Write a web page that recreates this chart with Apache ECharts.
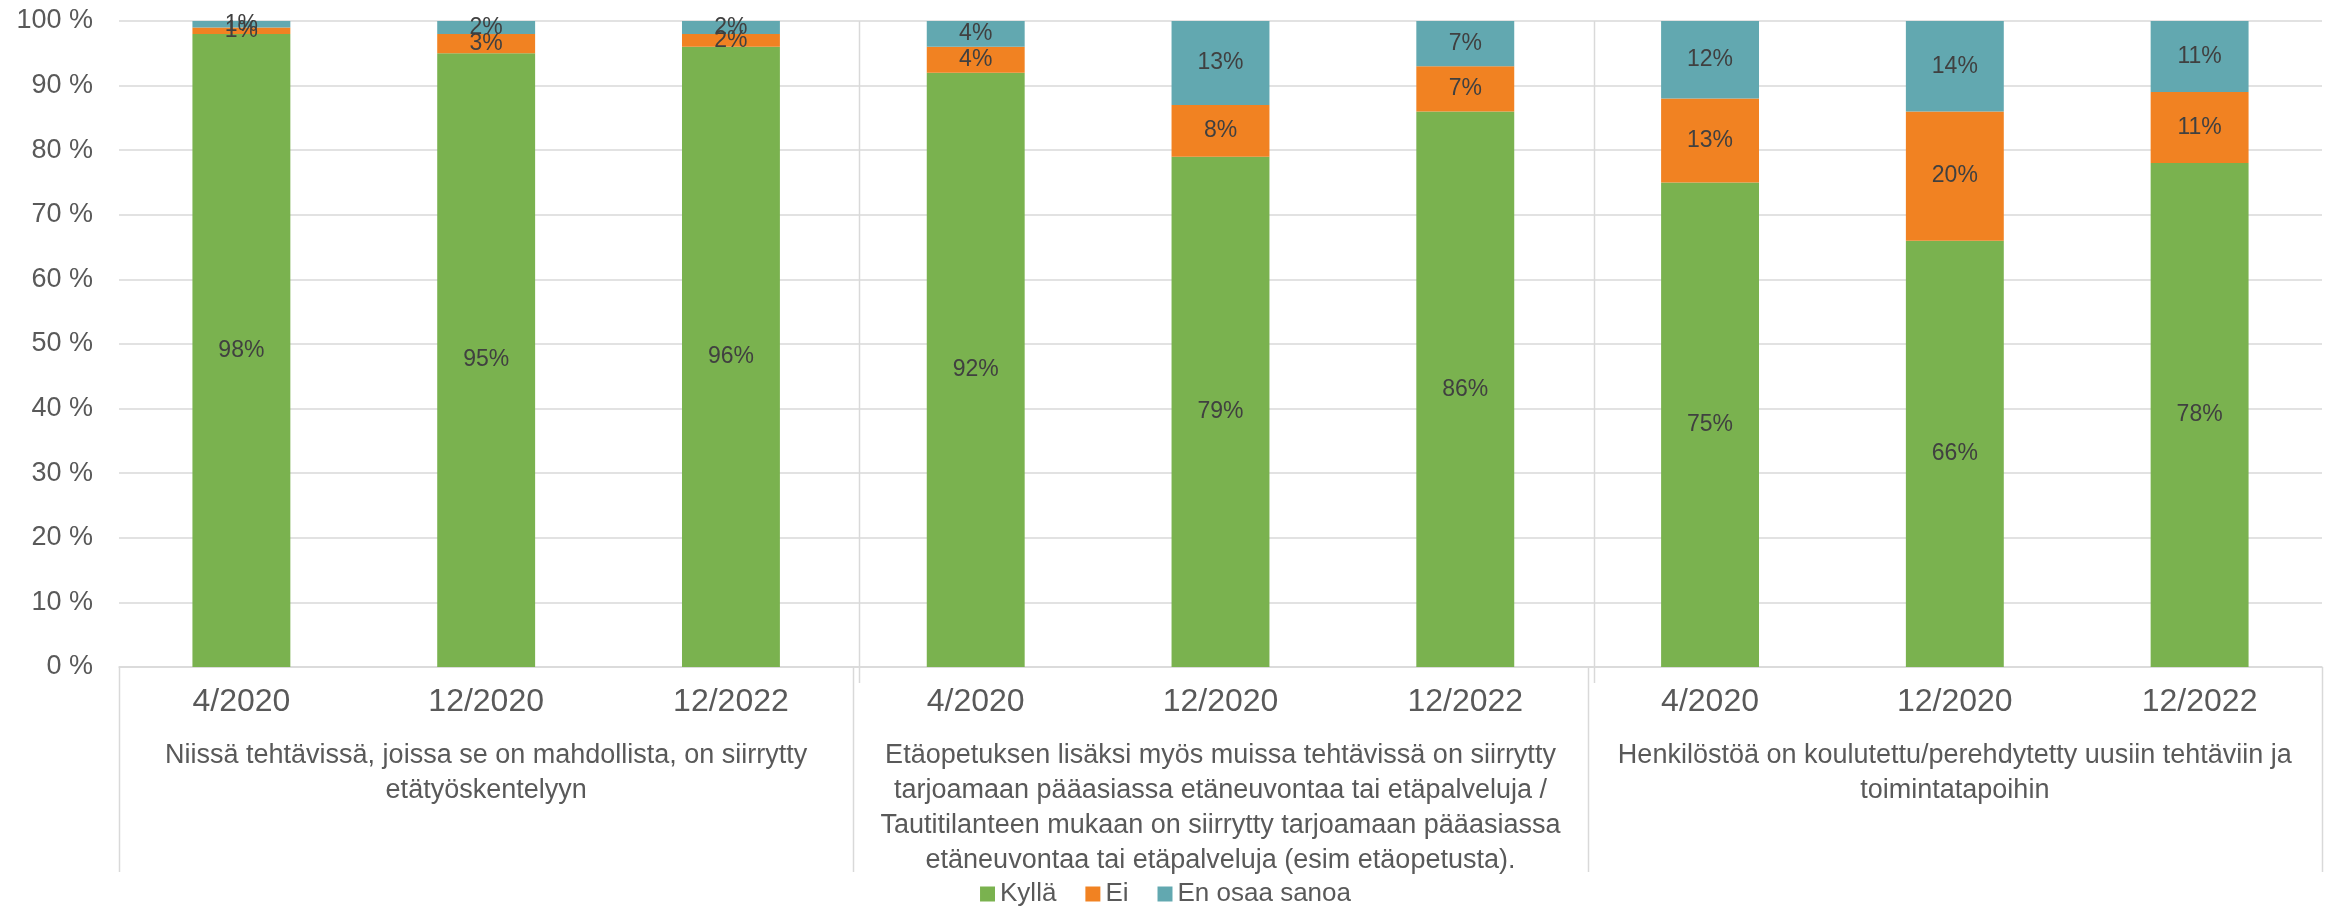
<!DOCTYPE html>
<html>
<head>
<meta charset="utf-8">
<script src="https://cdn.jsdelivr.net/npm/echarts@6/dist/echarts.min.js"></script>
<style>
html,body{margin:0;padding:0;background:#fff;}
#c{width:2331px;height:911px;}
</style>
</head>
<body>
<div id="c"></div>
<script>
const periods = ['4/2020', '12/2020', '12/2022'];
const groups = [
  'Niissä tehtävissä, joissa se on mahdollista, on siirrytty\netätyöskentelyyn',
  'Etäopetuksen lisäksi myös muissa tehtävissä on siirrytty\ntarjoamaan pääasiassa etäneuvontaa tai etäpalveluja /\nTautitilanteen mukaan on siirrytty tarjoamaan pääasiassa\netäneuvontaa tai etäpalveluja (esim etäopetusta).',
  'Henkilöstöä on koulutettu/perehdytetty uusiin tehtäviin ja\ntoimintatapoihin'
];
const seriesNames = ['Kyllä', 'Ei', 'En osaa sanoa'];
const kylla = [98, 95, 96, 92, 79, 86, 75, 66, 78];
const ei = [1, 3, 2, 4, 8, 7, 13, 20, 11];
const eos = [1, 2, 2, 4, 13, 7, 12, 14, 11];
const yTicks = [0, 10, 20, 30, 40, 50, 60, 70, 80, 90, 100];

const colors = ['#7AB24F', '#F18222', '#62A8B0'];
const FONT = '"Liberation Sans", Arial, sans-serif';
const TXT = '#595959';
const GRIDC = '#D9D9D9';

const cats = [];
groups.forEach((g, gi) => periods.forEach((p, pi) => cats.push(gi + '|' + pi)));

const chart = echarts.init(document.getElementById('c'), null, {renderer: 'canvas'});

function mkSeries(name, data, color) {
  return {
    name: name,
    type: 'bar',
    stack: 'total',
    barWidth: '40%',
    data: data,
    itemStyle: {color: color},
    label: {
      show: true,
      position: 'inside',
      formatter: '{c}%',
      color: '#404040',
      fontFamily: FONT,
      fontSize: 23
    },
    emphasis: {disabled: true}
  };
}

chart.setOption({
  animation: false,
  textStyle: {fontFamily: FONT},
  grid: {left: 119, right: 9, top: 21, bottom: 244, containLabel: false},
  legend: {
    data: seriesNames,
    top: 881,
    left: 'center',
    padding: 0,
    icon: 'rect',
    itemWidth: 15,
    itemHeight: 15,
    itemGap: 29,
    textStyle: {fontFamily: FONT, fontSize: 26, color: TXT}
  },
  xAxis: [
    {
      type: 'category',
      data: cats,
      position: 'bottom',
      axisLine: {show: true, lineStyle: {color: GRIDC, width: 1.5}},
      axisTick: {show: false},
      axisLabel: {
        interval: 0,
        margin: 18,
        lineHeight: 34,
        fontSize: 32,
        color: TXT,
        fontFamily: FONT,
        formatter: (v, i) => periods[i % periods.length]
      },
      splitLine: {show: false}
    },
    {
      type: 'category',
      data: groups,
      position: 'bottom',
      axisLine: {show: false},
      axisTick: {show: false},
      axisLabel: {
        interval: 0,
        margin: 71,
        lineHeight: 35,
        fontSize: 27,
        color: TXT,
        fontFamily: FONT,
        align: 'center'
      },
      splitLine: {show: false}
    }
  ],
  yAxis: {
    type: 'value',
    min: yTicks[0],
    max: yTicks[yTicks.length - 1],
    interval: yTicks[1] - yTicks[0],
    axisLine: {show: false},
    axisTick: {show: false},
    axisLabel: {
      margin: 26,
      fontSize: 27,
      color: TXT,
      fontFamily: FONT,
      formatter: '{value} %'
    },
    splitLine: {lineStyle: {color: GRIDC, width: 1.5}}
  },
  series: [
    mkSeries(seriesNames[0], kylla, colors[0]),
    mkSeries(seriesNames[1], ei, colors[1]),
    mkSeries(seriesNames[2], eos, colors[2])
  ]
});

// Multi-level category axis separators, positioned from the axis scale
(function () {
  const c0 = chart.convertToPixel({xAxisIndex: 0}, 0);
  const c1 = chart.convertToPixel({xAxisIndex: 0}, 1);
  const band = c1 - c0;
  const yBase = chart.convertToPixel({yAxisIndex: 0}, 0);
  const yTop = chart.convertToPixel({yAxisIndex: 0}, 100);
  const n = cats.length;
  const per = periods.length;
  const lineBottom = yBase + 205;
  const gfx = [];
  function vline(x, y1, y2) {
    gfx.push({type: 'line', silent: true, z: 5,
      shape: {x1: Math.round(x) + 0.5, y1: y1, x2: Math.round(x) + 0.5, y2: y2},
      style: {stroke: GRIDC, lineWidth: 1.5}});
  }
  for (let b = 0; b <= n; b += per) {
    const x = c0 - band / 2 + b * band;
    vline(x, yBase, lineBottom);
    if (b > 0 && b < n) {
      vline(x + 6, yTop, yBase + 16);
    }
  }
  chart.setOption({graphic: gfx});
})();
</script>
</body>
</html>
